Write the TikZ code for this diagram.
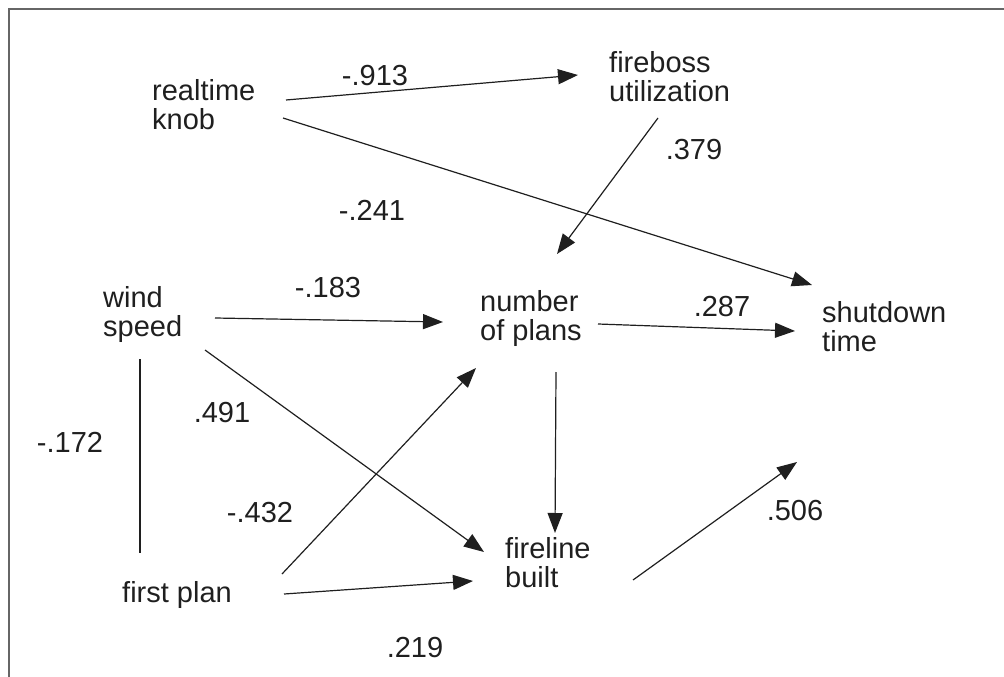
\documentclass[tikz,border=0pt]{standalone}
\usepackage{fontspec}
\setmainfont{Liberation Sans}
\usetikzlibrary{arrows.meta}
\begin{document}
\begin{tikzpicture}[x=1pt,y=-1pt,
  lbl/.style={inner sep=0pt,anchor=base west,align=left,text=black!88,font=\fontsize{29}{29}\selectfont},
  num/.style={inner sep=0pt,anchor=center,text=black!88,font=\fontsize{29}{29}\selectfont},
  conn/.style={line width=1.2pt,draw=black!88,-{Triangle[length=20pt,width=15pt]}},
  plain/.style={line width=1.2pt,draw=black!88},
  frame/.style={line width=2pt,draw=black!60}]
\useasboundingbox (0,0) rectangle (1004,677);
\draw[frame] (9,677) -- (9,9) -- (1004,9);
% nodes (base anchor = baseline of last line)
\node[lbl] (rk) at (152,129) {realtime\\knob};
\node[lbl] (fb) at (609,102) {fireboss\\utilization};
\node[lbl] (ws) at (103,336) {wind\\speed};
\node[lbl] (np) at (480,340) {number\\of plans};
\node[lbl] (st) at (822,351) {shutdown\\time};
\node[lbl] (fp) at (122,602) {first plan};
\node[lbl] (fl) at (505,587) {fireline\\built};
% endpoints
\coordinate (rk-a) at (286,100);
\coordinate (rk-b) at (283,118);
\coordinate (fb-in) at (578,75);
\coordinate (fb-out) at (658,118);
\coordinate (st-a) at (812,285);
\coordinate (st-b) at (795,331);
\coordinate (st-c) at (797,462);
\coordinate (np-top) at (557,254);
\coordinate (np-left) at (443,322);
\coordinate (np-right) at (598,324);
\coordinate (np-bot) at (556,372);
\coordinate (np-bl) at (476,368);
\coordinate (ws-r) at (215,318);
\coordinate (ws-d) at (205,350);
\coordinate (ws-b) at (140,359);
\coordinate (fp-t) at (140,553);
\coordinate (fp-ur) at (282,574);
\coordinate (fp-r) at (284,594);
\coordinate (fl-top) at (555,533);
\coordinate (fl-ul) at (484,552);
\coordinate (fl-l) at (473,581);
\coordinate (fl-r) at (633,580);
% connectors
\draw[conn] (rk-a) -- (fb-in);
\draw[conn] (rk-b) -- (st-a);
\draw[conn] (fb-out) -- (np-top);
\draw[conn] (ws-r) -- (np-left);
\draw[conn] (np-right) -- (st-b);
\draw[conn] (ws-d) -- (fl-ul);
\draw[plain] (ws-b) -- (fp-t);
\draw[conn] (np-bot) -- (fl-top);
\draw[conn] (fp-ur) -- (np-bl);
\draw[conn] (fp-r) -- (fl-l);
\draw[conn] (fl-r) -- (st-c);
% labels
\node[num] (l1) at (375,76) {-.913};
\node[num] (l2) at (372,210) {-.241};
\node[num] (l3) at (694,150) {.379};
\node[num] (l4) at (328,288) {-.183};
\node[num] (l5) at (722,307) {.287};
\node[num] (l6) at (222,413) {.491};
\node[num] (l7) at (70,442) {-.172};
\node[num] (l8) at (260,513) {-.432};
\node[num] (l9) at (795,511) {.506};
\node[num] (l10) at (415,648) {.219};
\end{tikzpicture}
\end{document}
